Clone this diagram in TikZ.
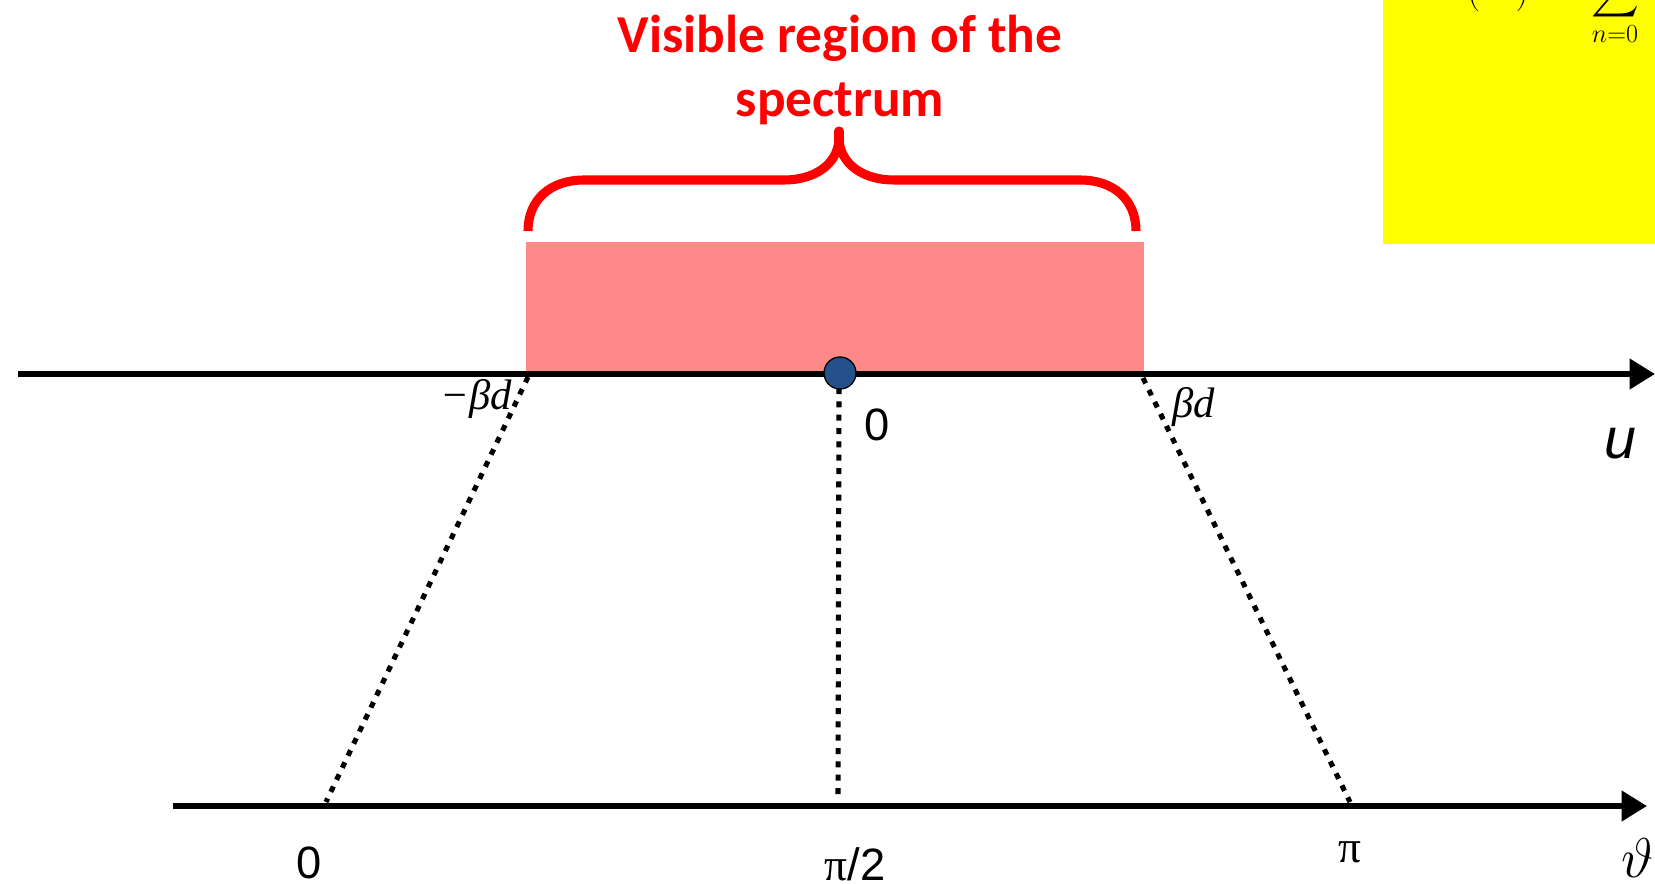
\RequirePackage{fix-cm}
\documentclass[tikz,border=0pt]{standalone}
\usepackage{amsmath}
\usepackage[no-math]{fontspec}
\usetikzlibrary{arrows.meta}
\setmainfont{Liberation Sans}
\newfontfamily\titlefont{Carlito}
\newfontfamily\greekfont{Liberation Serif}
\definecolor{SpecRed}{HTML}{FF0000}
\definecolor{SpecPink}{HTML}{FF8888}
\definecolor{DotBlue}{HTML}{24508C}
\definecolor{NoteYellow}{HTML}{FFFF00}
\tikzset{%
  axisline/.style={line width=4.5pt,-{Triangle[length=19pt,width=22pt]}},
  mapline/.style={line width=3.8pt,dash pattern=on 4.5pt off 5.5pt},
  bracepath/.style={draw=SpecRed,line width=6.8pt,line join=round},
  titletxt/.style={font=\titlefont\bfseries\fontsize{40}{48}\selectfont,
    text=SpecRed,inner sep=0pt,anchor=base},
  ticklbl/.style={font=\fontsize{34}{40}\selectfont,inner sep=0pt,anchor=base},
  mathlbl/.style={font=\greekfont\itshape\fontsize{32}{36}\selectfont,inner sep=0pt,anchor=base}
}
\begin{document}
\begin{tikzpicture}[x=0.75pt,y=-0.75pt]
  \useasboundingbox (0,0) rectangle (1655,884);
  \clip (0,0) rectangle (1655,884);
  % note box, cut by the frame
  \fill[NoteYellow] (1383,-5) rectangle (1660,244);
  \node[inner sep=0pt,anchor=south,font=\fontsize{28}{32}\selectfont]
    (parens) at (1498,12) {$(\hspace{0.95em})$};
  \node[inner sep=0pt,anchor=south,font=\fontsize{28}{32}\selectfont]
    (sumsign) at (1615,46) {$\displaystyle\sum_{n=0}$};
  % visible band
  \fill[SpecPink] (526,242) rectangle (1144,374);
  \draw[bracepath] (528,231) .. controls (528,200) and (550,180) .. (584,180)
    -- (784,180) .. controls (814,180) and (837,165) .. (839,140)
    .. controls (841,165) and (864,180) .. (894,180)
    -- (1080,180) .. controls (1114,180) and (1136,200) .. (1136,231);
  \draw[bracepath,line cap=round] (839,142) -- (839,131);
  \node[titletxt] (title1) at (840,53) {Visible region of the};
  \node[titletxt] (title2) at (840,117) {spectrum};
  % axes
  \coordinate (uL) at (18,374);
  \coordinate (uR) at (1655,374);
  \coordinate (tL) at (173,806);
  \coordinate (tR) at (1647,806);
  \draw[axisline] (uL) -- (uR);
  \draw[axisline] (tL) -- (tR);
  % mapping between u and theta
  \coordinate (mbdU) at (528,377);
  \coordinate (zeroU) at (839,388);
  \coordinate (bdU) at (1143,378);
  \coordinate (zeroT) at (326,802);
  \coordinate (halfT) at (838,797);
  \coordinate (piT) at (1350,802);
  \draw[mapline] (mbdU) -- (zeroT);
  \draw[mapline] (zeroU) -- (halfT);
  \draw[mapline] (bdU) -- (piT);
  \node[circle,draw,line width=1pt,fill=DotBlue,minimum size=24pt,inner sep=0pt]
    (origin) at (840,373) {};
  % labels
  \node[mathlbl] (mbdlbl) at (476,409) {−βd};
  \node[mathlbl] (bdlbl) at (1194,417) {βd};
  \node[ticklbl] (zerou) at (877,440) {0};
  \node[ticklbl,font=\itshape\fontsize{43}{48}\selectfont] (ulbl) at (1620,458) {u};
  \node[ticklbl] (zerot) at (309,878) {0};
  \node[ticklbl] (halfpi) at (855,880) {{\greekfont π}/2};
  \node[ticklbl,font=\greekfont\fontsize{34}{40}\selectfont] (pilbl) at (1350,862) {π};
  \node[inner sep=0pt,anchor=base,font=\fontsize{42}{48}\selectfont] (thetalbl) at (1638,877) {$\vartheta$};
\end{tikzpicture}
\end{document}
